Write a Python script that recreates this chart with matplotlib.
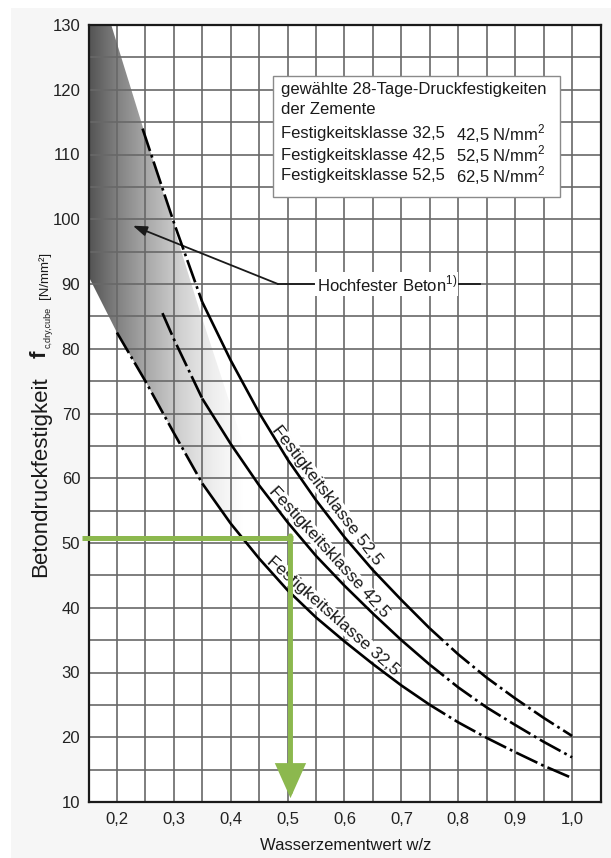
import numpy as np
import matplotlib
matplotlib.use("Agg")
import matplotlib.pyplot as plt
from matplotlib.patches import Polygon, Rectangle
from matplotlib.colors import LinearSegmentedColormap

plt.rcParams['font.family'] = ['Liberation Sans', 'DejaVu Sans']
plt.rcParams['mathtext.fontset'] = 'custom'
plt.rcParams['mathtext.rm'] = 'Liberation Sans'
plt.rcParams['mathtext.bf'] = 'Liberation Sans:bold'
plt.rcParams['lines.scale_dashes'] = False

# ---------------- data ----------------
X_TICKS = [0.2, 0.3, 0.4, 0.5, 0.6, 0.7, 0.8, 0.9, 1.0]
X_TICK_LABELS = ['0,2', '0,3', '0,4', '0,5', '0,6', '0,7', '0,8', '0,9', '1,0']
Y_TICKS = [10, 20, 30, 40, 50, 60, 70, 80, 90, 100, 110, 120, 130]

# Festigkeitsklasse 52,5
WZ_525 = [0.245, 0.30, 0.35, 0.40, 0.45, 0.50, 0.55, 0.60, 0.65, 0.70, 0.75, 0.80, 0.85, 0.90, 0.95, 1.00]
F_525 = [114.0, 99.5, 87.2, 78.2, 70.1, 62.9, 56.6, 50.9, 45.8, 41.2, 36.8, 32.8, 29.2, 26.0, 23.0, 20.2]
# Festigkeitsklasse 42,5
WZ_425 = [0.28, 0.30, 0.35, 0.40, 0.45, 0.50, 0.55, 0.60, 0.65, 0.70, 0.75, 0.80, 0.85, 0.90, 0.95, 1.00]
F_425 = [85.5, 81.5, 72.3, 65.3, 58.9, 53.2, 48.0, 43.4, 39.1, 35.0, 31.2, 27.7, 24.6, 21.9, 19.3, 16.9]
# Festigkeitsklasse 32,5
WZ_325 = [0.20, 0.25, 0.30, 0.35, 0.40, 0.45, 0.50, 0.55, 0.60, 0.65, 0.70, 0.75, 0.80, 0.85, 0.90, 0.95, 1.00]
F_325 = [82.5, 75.0, 67.0, 59.2, 53.0, 47.6, 42.7, 38.5, 34.8, 31.3, 28.0, 25.0, 22.3, 19.9, 17.7, 15.6, 13.7]

SOLID_FROM = 0.35   # curves drawn solid in this w/z range, dash-dotted outside
SOLID_TO = 0.75

CURVE_NAMES = ['Festigkeitsklasse 52,5', 'Festigkeitsklasse 42,5', 'Festigkeitsklasse 32,5']
LABEL_AT_WZ = [0.553, 0.558, 0.565]

BOX_TITLE = ['gewählte 28-Tage-Druckfestigkeiten', 'der Zemente']
BOX_CLASSES = ['Festigkeitsklasse 32,5', 'Festigkeitsklasse 42,5', 'Festigkeitsklasse 52,5']
BOX_STRENGTHS = ['42,5', '52,5', '62,5']

# high-strength concrete zone (upper boundary), lower boundary follows class 32,5
HFB_UPPER_WZ = [0.15, 0.19, 0.345, 0.46]
HFB_UPPER_F = [130, 130, 86, 55]
HFB_LEFT_F = 91.2
HFB_LABEL = 'Hochfester Beton'
HFB_ARROW_FROM = (0.483, 90.0)
HFB_ARROW_TO = (0.228, 99.0)

# reading example (green)
GUIDE_WZ = 0.505
GUIDE_F = 50.8

GREEN = '#8cb84e'
INK = '#1a1a1a'

# ---------------- figure ----------------
W, H = 611, 858
fig = plt.figure(figsize=(W / 100, H / 100), dpi=100, facecolor='#f6f6f6')
fig.patches.append(Rectangle((0, 0), 11 / W, 1, transform=fig.transFigure, facecolor='white', edgecolor='none', zorder=-1))
fig.patches.append(Rectangle((0, 1 - 8 / H), 1, 8 / H, transform=fig.transFigure, facecolor='white', edgecolor='none', zorder=-1))

L, R, T, B = 88.5, 600.5, 25, 802
ax = fig.add_axes([L / W, 1 - B / H, (R - L) / W, (B - T) / H])
ax.set_facecolor('white')

# shaded zone with horizontal gradient
cmap = LinearSegmentedColormap.from_list('g', [(0.0, (0.33, 0.33, 0.33)),
                                               (0.2, (0.52, 0.52, 0.52)),
                                               (0.4, (0.68, 0.68, 0.68)),
                                               (0.6, (0.82, 0.82, 0.82)),
                                               (0.8, (0.93, 0.93, 0.93)),
                                               (1.0, (1.0, 1.0, 1.0))])
gx = np.linspace(0, 1, 400)
img = ax.imshow(gx[None, :], extent=[0.15, 0.42, 10, 130], cmap=cmap, vmin=0, vmax=1,
                aspect='auto', interpolation='bilinear', zorder=0.2)
low_wz = [w for w in WZ_325 if w <= 0.45][::-1]
low_f = [f for w, f in zip(WZ_325, F_325) if w <= 0.45][::-1]
verts = list(zip(HFB_UPPER_WZ, HFB_UPPER_F)) + list(zip(low_wz, low_f)) + [(0.15, HFB_LEFT_F)]
clip = Polygon(verts, closed=True, transform=ax.transData, facecolor='none', edgecolor='none')
ax.add_patch(clip)
img.set_clip_path(clip)

ax.set_xlim(0.15, 1.05)
ax.set_ylim(10, 130)
ax.set_xticks(X_TICKS)
ax.set_xticklabels(X_TICK_LABELS)
ax.set_yticks(Y_TICKS)
ax.set_xticks(np.arange(0.15, 1.051, 0.05), minor=True)
ax.set_yticks(np.arange(10, 131, 5), minor=True)
ax.set_axisbelow(True)
ax.grid(which='both', color='#686868', lw=1.2)
ax.tick_params(which='both', length=0, labelsize=12, labelcolor='#222222')
ax.tick_params(axis='x', pad=7)
ax.tick_params(axis='y', pad=6)
for s in ax.spines.values():
    s.set_linewidth(1.6)
    s.set_color(INK)

# curves
series = [(WZ_525, F_525), (WZ_425, F_425), (WZ_325, F_325)]
for wz, f in series:
    wz = np.array(wz); f = np.array(f)
    m1 = wz <= SOLID_FROM
    m2 = (wz >= SOLID_FROM) & (wz <= SOLID_TO)
    m3 = wz >= SOLID_TO
    ax.plot(wz[m1], f[m1], color='black', lw=1.9, ls=(0, (17, 3, 2, 3)), zorder=3.5)
    ax.plot(wz[m2], f[m2], color='black', lw=1.9, zorder=3.5, solid_capstyle='butt',
            solid_joinstyle='round')
    ax.plot(wz[m3], f[m3], color='black', lw=1.9, ls=(4, (17, 3, 2, 3)), zorder=3.5)

# curve labels: placed just above each curve, parallel to it
LABEL_ROT = [-52.6, -47.7, -41.5]
for name, lw_, (wz, f), rot in zip(CURVE_NAMES, LABEL_AT_WZ, series, LABEL_ROT):
    y0 = np.interp(lw_, wz, f)
    th = np.deg2rad(-rot)
    off = 5.5
    ax.annotate(name, xy=(lw_, y0), xytext=(off * np.sin(th), off * np.cos(th)),
                textcoords='offset points', rotation=rot, rotation_mode='anchor',
                ha='center', va='baseline', fontsize=12.5, color=INK, zorder=3,
                bbox=dict(facecolor='white', edgecolor='none', pad=0.3))

# info box
ax.add_patch(Rectangle((0.36, 0.778), 0.561, 0.156, transform=ax.transAxes,
                       facecolor='white', edgecolor='#8a8a8a', lw=1.0, zorder=3))
ys = [0.9175, 0.8917, 0.86, 0.8325, 0.8058]
for t, y in zip(BOX_TITLE, ys[:2]):
    ax.text(0.3756, y, t, transform=ax.transAxes, ha='left', va='center', fontsize=12,
            color=INK, zorder=4)
for c, s, y in zip(BOX_CLASSES, BOX_STRENGTHS, ys[2:]):
    ax.text(0.3756, y, c, transform=ax.transAxes, ha='left', va='center', fontsize=12,
            color=INK, zorder=4)
    ax.text(0.7178, y, s + r' N/mm$^{\mathregular{2}}$', transform=ax.transAxes, ha='left',
            va='center', fontsize=12, color=INK, zorder=4)

# Hochfester Beton annotation
ax.annotate('', xy=HFB_ARROW_TO, xytext=HFB_ARROW_FROM,
            arrowprops=dict(arrowstyle='-|>,head_length=0.7,head_width=0.25', color=INK,
                            lw=1.3, shrinkA=0, shrinkB=0, mutation_scale=12), zorder=3)
ax.plot([HFB_ARROW_FROM[0], 0.547], [HFB_ARROW_FROM[1]] * 2, color=INK, lw=1.3, zorder=3)
ax.plot([0.80, 0.838], [HFB_ARROW_FROM[1]] * 2, color=INK, lw=1.3, zorder=3)
ax.text(0.551, HFB_ARROW_FROM[1], HFB_LABEL + r'$^{\mathregular{1)}}$', ha='left', va='center',
        fontsize=12, color=INK, zorder=3,
        bbox=dict(facecolor='white', edgecolor='none', pad=1.0))

# green reading example
ax.plot([0.1386, GUIDE_WZ + 0.0045], [GUIDE_F, GUIDE_F], color=GREEN, lw=3.6,
        clip_on=False, zorder=5, solid_capstyle='butt')
ax.annotate('', xy=(GUIDE_WZ, 10.6), xytext=(GUIDE_WZ, GUIDE_F + 0.3),
            arrowprops=dict(arrowstyle='-|>,head_length=1.9,head_width=0.85', color=GREEN,
                            lw=3.6, shrinkA=0, shrinkB=0, mutation_scale=10, joinstyle='miter'),
            zorder=5)

# axis labels
def fx(px):
    return px / W

def fy(py):
    return 1 - py / H

fig.text(fx(346), fy(845), 'Wasserzementwert w/z', ha='center', va='center', fontsize=12,
         color=INK)
fig.text(fx(46), fy(577), 'Betondruckfestigkeit', rotation=90, rotation_mode='anchor',
         ha='left', va='baseline', fontsize=16, color=INK)
fig.text(fx(46), fy(358), 'f', rotation=90, rotation_mode='anchor', ha='left', va='baseline',
         fontsize=16, fontweight='bold', color=INK)
fig.text(fx(51), fy(348), 'c,dry,cube', rotation=90, rotation_mode='anchor', ha='left',
         va='baseline', fontsize=6.5, color=INK)
fig.text(fx(48), fy(299), '[N/mm²]', rotation=90, rotation_mode='anchor', ha='left',
         va='baseline', fontsize=9.5, color=INK)

fig.savefig('out.png', dpi=100, facecolor=fig.get_facecolor())
